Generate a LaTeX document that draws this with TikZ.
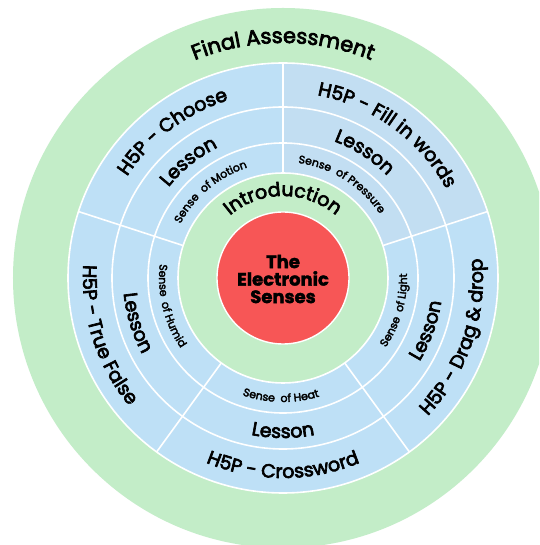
\documentclass[tikz,border=0pt]{standalone}
\usepackage{fontspec}
\setmainfont{Poppins}
\newfontfamily\popfont{Poppins}[FakeBold=3.5]
\newfontfamily\popsmall{Poppins}[FakeBold=3]
\newfontfamily\popcore{Poppins}[BoldFeatures={FakeBold=2}]
\usetikzlibrary{decorations.text}
\definecolor{ringgreen}{HTML}{C3EDC8}
\definecolor{ringblue}{HTML}{BEE0F6}
\definecolor{ringblueb}{HTML}{C2DEF2}
\definecolor{corered}{HTML}{F75656}
\newcommand\ringfont{\popfont\fontsize{19}{19}\selectfont}
\newcommand\finalfont{\popfont\fontsize{21}{21}\selectfont}
\newcommand\sensefont{\popsmall\fontsize{11}{11}\selectfont}
\newcommand\cwtext[4]{\path[decorate,decoration={text along path,text align=center,text={#4}}] ({#1+#3}:#2pt) arc[start angle={#1+#3}, end angle={#1-#3}, radius=#2pt];}
\newcommand\ccwtext[4]{\path[decorate,decoration={text along path,text align=center,text={#4}}] ({#1-#3}:#2pt) arc[start angle={#1-#3}, end angle={#1+#3}, radius=#2pt];}
\begin{document}
\begin{tikzpicture}[x=1pt,y=1pt,
  sep/.style={white,line width=1.6pt}]
\useasboundingbox (-283,-267) rectangle (256,278);
\clip (-283,-267) rectangle (256,278);
\fill[white] (-283,-267) rectangle (256,278);
% outer green ring
\fill[ringgreen] (0,0) circle[radius=270pt];
% blue rings
\fill[ringblue] (0,0) circle[radius=215pt];
\fill[ringblueb] (90:105pt) -- (90:215pt) arc[start angle=90,end angle=18,radius=215pt] -- (18:105pt) arc[start angle=18,end angle=90,radius=105pt] -- cycle;
% inner green
\fill[ringgreen] (0,0) circle[radius=105pt];
% separators
\draw[sep] (0,0) circle[radius=215pt];
\draw[sep] (0,0) circle[radius=171pt];
\draw[sep] (0,0) circle[radius=135pt];
\draw[sep] (0,0) circle[radius=105pt];
\foreach \a in {90,18,-54,-126,162} \draw[sep] (\a:105pt) -- (\a:215pt);
% core
\fill[corered,draw=white,line width=1.4pt] (0,0) circle[radius=66pt];
\node[align=center,font=\popcore\bfseries\fontsize{18}{17.5}\selectfont] (core) at (0,-1) {The\\Electronic\\Senses};
% texts
\cwtext{90}{235}{60}{|\finalfont|Final Assessment}
\cwtext{127}{186}{40}{|\ringfont|H5P - Choose}
\cwtext{54}{186}{40}{|\ringfont|H5P - Fill in words}
\ccwtext{-19}{200}{40}{|\ringfont|H5P - Drag {\&} drop}
\ccwtext{-90}{200}{40}{|\ringfont|H5P - Crossword}
\ccwtext{198}{200}{40}{|\ringfont|H5P - True False}
\cwtext{129}{146}{40}{|\ringfont|Lesson}
\cwtext{57}{146}{40}{|\ringfont|Lesson}
\ccwtext{-20}{160}{40}{|\ringfont|Lesson}
\ccwtext{-90}{160}{40}{|\ringfont|Lesson}
\ccwtext{197}{160}{40}{|\ringfont|Lesson}
\cwtext{130}{116}{40}{|\sensefont|Sense {\kern3pt}of Motion}
\cwtext{58}{116}{40}{|\sensefont|Sense {\kern3pt}of Pressure}
\ccwtext{-16}{124}{40}{|\sensefont|Sense {\kern3pt}of Light}
\ccwtext{-91}{124}{40}{|\sensefont|Sense {\kern3pt}of Heat}
\ccwtext{194}{124}{40}{|\sensefont|Sense {\kern3pt}of Humid}
\cwtext{90}{82}{75}{|\ringfont|Introduction}
\end{tikzpicture}
\end{document}
